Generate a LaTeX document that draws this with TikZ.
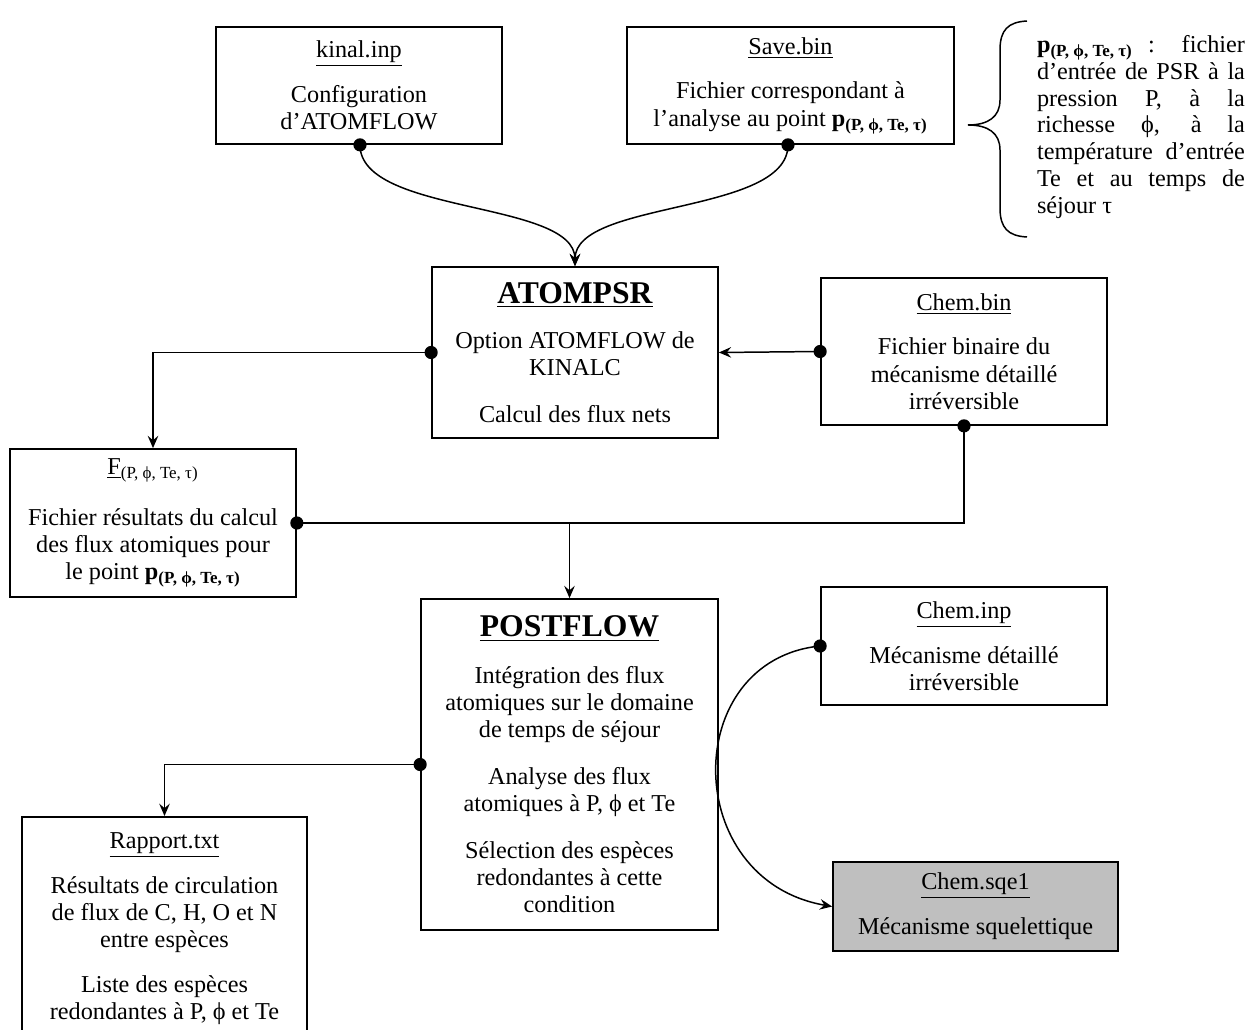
\documentclass[tikz,border=0pt]{standalone}
\usepackage{fontspec}
\setmainfont{Liberation Serif}
\usetikzlibrary{positioning,arrows.meta}
\newcommand{\pPt}{\textbf{p}\textsubscript{\textbf{(P, ϕ, Te, τ)}}}
\newcommand{\bigtitle}[1]{\underline{\fontsize{18}{20}\selectfont\textbf{#1}}}
\tikzset{
  filebox/.style={draw, line width=1pt, align=center, inner sep=4pt,
    font=\fontsize{13.8}{15.5}\selectfont},
  outbox/.style={filebox, fill=black!25},
  dot/.style={circle, fill, inner sep=0pt, minimum size=7.5pt},
  link/.style={line width=0.85pt}
}
\begin{document}
\begin{tikzpicture}[x=0.02cm,y=-0.02cm,>={Stealth[length=7pt,width=6pt,inset=2.5pt]}]
\useasboundingbox (0,0) rectangle (1251,1030);
% fichiers d'entree
\node[filebox, minimum width=5.72cm, minimum height=2.34cm] (kinal) at (359,85.5)
  {\underline{kinal.inp}\\[10pt] Configuration\\d’ATOMFLOW};
\node[filebox, minimum width=6.54cm, minimum height=2.34cm] (save) at (790.5,85.5)
  {\underline{Save.bin}\\[10pt] Fichier correspondant à\\l’analyse au point \pPt};
% accolade
\draw[link] (1027,21) .. controls (1008,22) and (1000,30) .. (1000,50) -- (1000,100)
  .. controls (1000,117) and (988,125) .. (968,125)
  .. controls (988,125) and (1000,133) .. (1000,150) -- (1000,208)
  .. controls (1000,228) and (1008,236) .. (1027,237);
\node[font=\fontsize{13.8}{15.2}\selectfont, text width=4.16cm, align=justify, inner sep=0pt] (note) at (1141,127)
  {\pPt{} : fichier\linebreak d’entrée de PSR à la\linebreak pression P, à la\linebreak
   richesse ϕ, à la\linebreak température d’entrée\linebreak Te et au temps de\linebreak séjour τ};
% ATOMPSR
\node[filebox, minimum width=5.72cm, minimum height=3.42cm] (atompsr) at (575,352.5)
  {\bigtitle{ATOMPSR}\\[10pt] Option ATOMFLOW de\\KINALC\\[11pt] Calcul des flux nets};
\node[filebox, minimum width=5.72cm, minimum height=2.94cm] (chembin) at (964,351.5)
  {\underline{Chem.bin}\\[10pt] Fichier binaire du\\mécanisme détaillé\\irréversible};
\node[filebox, minimum width=5.72cm, minimum height=2.96cm] (fbox) at (153,523)
  {\underline{F}\textsubscript{(P, ϕ, Te, τ)}\\[13pt] Fichier résultats du calcul\\des flux atomiques pour\\le point \pPt};
% POSTFLOW
\node[filebox, minimum width=5.94cm, minimum height=6.62cm] (postflow) at (569.5,764.5)
  {\bigtitle{POSTFLOW}\\[11pt] Intégration des flux\\atomiques sur le domaine\\de temps de séjour\\[11pt]
   Analyse des flux\\atomiques à P, ϕ et Te\\[11pt] Sélection des espèces\\redondantes à cette\\condition};
\node[filebox, minimum width=5.72cm, minimum height=2.36cm] (cheminp) at (964,646)
  {\underline{Chem.inp}\\[10pt] Mécanisme détaillé\\irréversible};
\node[outbox, minimum width=5.70cm, minimum height=1.78cm] (chemsqe) at (975.5,906.5)
  {\underline{Chem.sqe1}\\[10pt] Mécanisme squelettique};
\node[filebox, minimum width=5.70cm, anchor=north, inner ysep=9pt] (rapport) at (164.5,816)
  {\underline{Rapport.txt}\\[10pt] Résultats de circulation\\de flux de C, H, O et N\\entre espèces\\[10pt]
   Liste des espèces\\redondantes à P, ϕ et Te\\[2cm]\mbox{}};
% points de connexion
\node[dot] (kdot) at (kinal.south -| 360,0) {};
\node[dot] (sdot) at (save.south -| 788,0) {};
\node[dot] (adot) at (atompsr.west) {};
\node[dot] (bdot) at (chembin.west) {};
\node[dot] (bsdot) at (chembin.south) {};
\node[dot] (fdot) at (fbox.east) {};
\node[dot] (pdot) at (postflow.west) {};
\node[dot] (idot) at (cheminp.west) {};
% liaisons
\draw[link,->] (kdot.center) .. controls (360,215) and (575,200) .. (atompsr.north);
\draw[link,->] (sdot.center) .. controls (788,215) and (575,200) .. (atompsr.north);
\draw[link,->] (bdot.center) -- (atompsr.east);
\draw[link,->] (adot.center) -| (fbox.north);
\draw[link] (bsdot.center) |- (fdot.center);
\draw[link,->] (postflow.north |- fdot) -- (postflow.north);
\draw[link,->] (pdot.center) -| (rapport.north);
\draw[link,->] (idot.center) .. controls (680,660) and (680,880) .. (chemsqe.west);
\end{tikzpicture}
\end{document}
